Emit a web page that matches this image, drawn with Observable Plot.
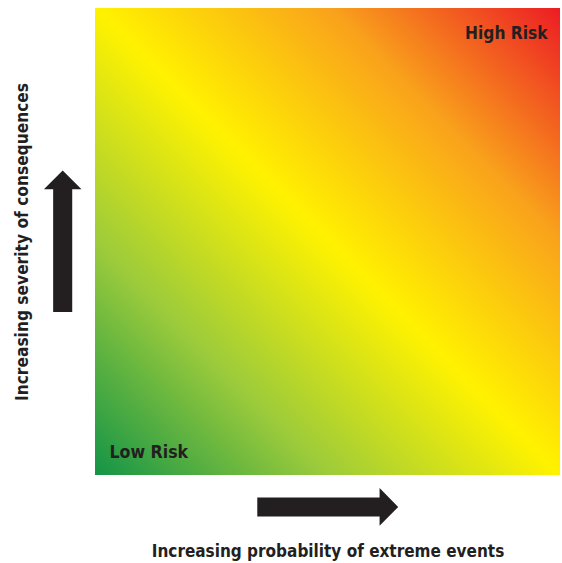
<!DOCTYPE html>
<html>
<head>
<meta charset="utf-8">
<script src="https://cdn.jsdelivr.net/npm/d3@7"></script>
<script src="https://cdn.jsdelivr.net/npm/@observablehq/plot@0.6"></script>
<style>
  html, body { margin: 0; padding: 0; background: #fff; }
  svg { display: block; }
</style>
</head>
<body>
<div id="chart"></div>
<script>
// --- data ---
const cornerLabels = ["Low Risk", "High Risk"];
const cornerX = [0, 1];
const cornerY = [0, 1];
const xAxisLabel = "Increasing probability of extreme events";
const yAxisLabel = "Increasing severity of consequences";
const gradientOffsets = [0, 0.25, 0.5, 0.75, 1];
const gradientColors = ["#139447", "#9ccb3b", "#fff200", "#f9a31b", "#ec1c24"];

// arrow shape (data units): start, head base, tip, offset from axis
const arrowStart = 0.349, arrowHead = 0.612, arrowTip = 0.652;
const shaftHalf = 0.0205, headHalf = 0.0404;
const hOffset = -0.0685, vOffset = -0.0695;

const font = "'Liberation Sans Narrow', 'DejaVu Sans Condensed', 'Arial Narrow', sans-serif";

const hArrow = [
  {x: arrowStart, y1: hOffset - shaftHalf, y2: hOffset + shaftHalf},
  {x: arrowHead, y1: hOffset - shaftHalf, y2: hOffset + shaftHalf},
  {x: arrowHead, y1: hOffset - headHalf, y2: hOffset + headHalf},
  {x: arrowTip, y1: hOffset, y2: hOffset}
];
const vArrow = [
  {y: arrowStart, x1: vOffset - shaftHalf, x2: vOffset + shaftHalf},
  {y: arrowHead, x1: vOffset - shaftHalf, x2: vOffset + shaftHalf},
  {y: arrowHead, x1: vOffset - headHalf, x2: vOffset + headHalf},
  {y: arrowTip, x1: vOffset, x2: vOffset}
];

const corners = cornerLabels.map((t, i) => ({text: t, x: cornerX[i], y: cornerY[i]}));

function gradientDefs() {
  const ns = "http://www.w3.org/2000/svg";
  const defs = document.createElementNS(ns, "defs");
  const g = document.createElementNS(ns, "linearGradient");
  g.setAttribute("id", "riskGradient");
  g.setAttribute("x1", "0"); g.setAttribute("y1", "1");
  g.setAttribute("x2", "1"); g.setAttribute("y2", "0");
  gradientOffsets.forEach((o, i) => {
    const s = document.createElementNS(ns, "stop");
    s.setAttribute("offset", o);
    s.setAttribute("stop-color", gradientColors[i]);
    g.appendChild(s);
  });
  defs.appendChild(g);
  return defs;
}

const chart = Plot.plot({
  width: 562,
  height: 563,
  marginLeft: 95,
  marginRight: 2,
  marginTop: 8,
  marginBottom: 88,
  x: {domain: [0, 1], axis: null},
  y: {domain: [0, 1], axis: null},
  style: {fontFamily: font, background: "#fff", overflow: "visible"},
  marks: [
    gradientDefs,
    Plot.rect([{x1: 0, x2: 1, y1: 0, y2: 1}], {x1: "x1", x2: "x2", y1: "y1", y2: "y2", fill: "url(#riskGradient)"}),
    Plot.text(corners.filter(d => d.x === 1), {
      x: "x", y: "y", text: "text", textAnchor: "end", dx: -13, dy: 25,
      fontSize: 17.2, fontWeight: "bold", fill: "#231f20"
    }),
    Plot.text(corners.filter(d => d.x === 0), {
      x: "x", y: "y", text: "text", textAnchor: "start", dx: 14, dy: -23,
      fontSize: 17.6, fontWeight: "bold", fill: "#231f20"
    }),
    Plot.areaY(hArrow, {x: "x", y1: "y1", y2: "y2", fill: "#231f20", clip: false}),
    Plot.areaX(vArrow, {y: "y", x1: "x1", x2: "x2", fill: "#231f20", clip: false}),
    Plot.text([xAxisLabel], {
      x: 0.5, y: -0.162, text: d => d, fontSize: 17, fontWeight: "bold", fill: "#231f20"
    }),
    Plot.text([yAxisLabel], {
      x: -0.157, y: 0.5, text: d => d, rotate: -90, fontSize: 17.2, fontWeight: "bold", fill: "#231f20"
    })
  ]
});
document.getElementById("chart").appendChild(chart);
</script>
</body>
</html>
